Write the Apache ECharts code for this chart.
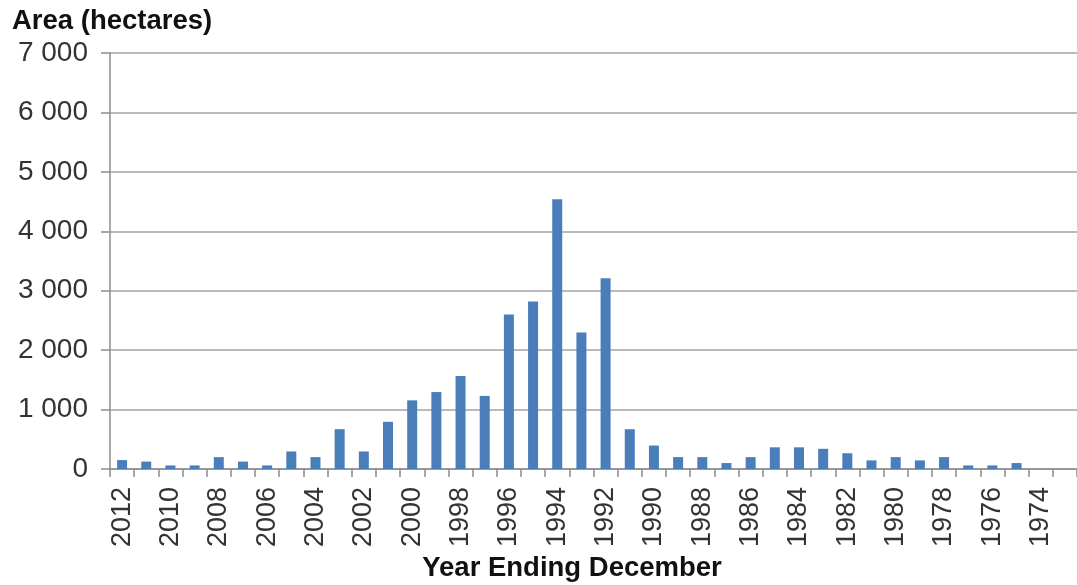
<!DOCTYPE html>
<html>
<head>
<meta charset="utf-8">
<script src="https://cdn.jsdelivr.net/npm/echarts@6/dist/echarts.min.js"></script>
<style>
  html, body { margin: 0; padding: 0; background: #fff; overflow: hidden; }
  #chart { width: 1077px; height: 585px; }
</style>
</head>
<body>
<div id="chart"></div>
<script>
// Years, newest first (1973 has no recorded area)
const years = ['2012','2011','2010','2009','2008','2007','2006','2005','2004','2003','2002','2001','2000',
  '1999','1998','1997','1996','1995','1994','1993','1992','1991','1990',
  '1989','1988','1987','1986','1985','1984','1983','1982','1981','1980',
  '1979','1978','1977','1976','1975','1974','1973'];

// Area per year (hectares)
const areaHectares = [150,125,60,60,200,125,60,295,200,670,295,795,1155,
  1295,1565,1230,2600,2820,4540,2295,3210,670,395,
  200,200,100,200,365,365,340,265,145,200,
  145,200,60,60,100,0,null];

const yTicks = { min: 0, max: 7000, step: 1000 };

const FONT = '"Liberation Sans", Arial, sans-serif';

function spaced(v) {
  return String(v).replace(/\B(?=(\d{3})+(?!\d))/g, ' ');
}

const chart = echarts.init(document.getElementById('chart'), null, { renderer: 'canvas' });

chart.setOption({
  animation: false,
  backgroundColor: '#ffffff',
  grid: { left: 110, right: -3, top: 53, bottom: 116, containLabel: false },
  xAxis: {
    type: 'category',
    data: years,
    boundaryGap: true,
    axisLine: { show: true, lineStyle: { color: '#8c8c8c', width: 1.5 } },
    axisTick: { show: true, interval: 0, length: 8, lineStyle: { color: '#8c8c8c', width: 1.5 } },
    axisLabel: {
      interval: 1, rotate: 90, margin: 18,
      fontFamily: FONT, fontSize: 27, color: '#333333'
    },
    splitLine: { show: false }
  },
  yAxis: {
    type: 'value',
    min: yTicks.min, max: yTicks.max, interval: yTicks.step,
    axisLine: { show: true, lineStyle: { color: '#8c8c8c', width: 1.5 } },
    axisTick: { show: true, length: 9, lineStyle: { color: '#8c8c8c', width: 1.5 } },
    axisLabel: {
      margin: 22, fontFamily: FONT, fontSize: 28, color: '#333333',
      formatter: spaced
    },
    splitLine: { show: true, lineStyle: { color: '#a3a3a3', width: 1.5 } }
  },
  series: [{
    type: 'bar',
    data: areaHectares,
    barWidth: 10,
    itemStyle: { color: '#4a7ebb' }
  }],
  graphic: [
    {
      type: 'text', left: 12, top: 7,
      style: { text: 'Area (hectares)', font: 'bold 27.5px ' + FONT, fill: '#111111' }
    },
    {
      type: 'text', x: 572, y: 568,
      style: {
        text: 'Year Ending December', font: 'bold 27.5px ' + FONT, fill: '#111111',
        textAlign: 'center', textVerticalAlign: 'middle'
      }
    }
  ]
});
</script>
</body>
</html>
